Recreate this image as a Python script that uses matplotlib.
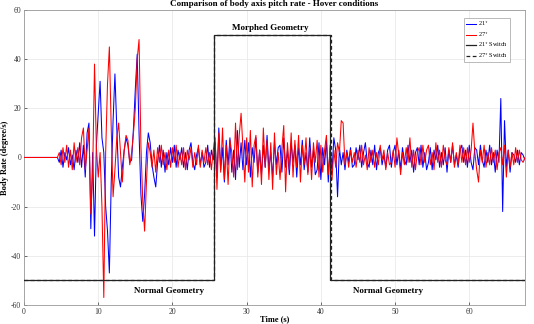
import numpy as np
import matplotlib
matplotlib.use("Agg")
import matplotlib.pyplot as plt

plt.rcParams['font.family'] = ['Liberation Serif', 'DejaVu Serif']
plt.rcParams['axes.unicode_minus'] = False

# sampling grid of the recorded signals (s)
t_start, t_step, t_end = 4.5, 0.25, 67.5
time = np.concatenate([[0.0], np.arange(t_start, t_end + 1e-9, t_step)])

rate_21 = [0.0,
    0, -2, 3, -4, 2, -1, 4, -3, 1, -5, 3, -2, 6, -4, 5, -8, 10, 14, -29, 2,
    -32, 5, 18, 31, 8, 2, -20, -30, -47, -10, 15, 34, 12, -8, -12, -4, 3, 8, 5, -2,
    -1, 12, 28, 42, 10, -15, -26, -15, 2, 10, 6, -3, -8, -12, -2, 5, -4, 3, -6, 2,
    -3, 4, -2, 5, -4, 3, -1, 4, -4, 2, -5, 3, 6, -2, -5, 1, 4, -3, 2, -4,
    -2, 5, -4, 3, -1, 6, -8, 12, -5, 4, -10, 7, -3, 8, -6, 3, -9, 11, -4, 6,
    -5, 7, -3, 6, -8, 4, -2, 8, -6, 3, -7, 5, -4, 9, -5, 2, -8, 6, -3, 4,
    5, -6, 8, -4, 3, -7, 6, -2, 5, -8, 4, -3, 7, -5, 2, -6, 8, -4, 3, -7,
    -5, 6, -9, 4, -3, 7, -10, 5, -6, 8, 3, -16, 4, -3, 2, -5, 3, -2, 4, -4,
    -3, 4, -1, 5, -4, 2, 6, -2, -4, 3, -3, 5, -5, 2, 4, -3, 1, -4, 3, 5,
    -4, 2, 5, -3, 3, -5, 4, -1, -3, 5, -2, 3, -6, 2, 4, -3, 5, -4, 2, -5,
    -2, 4, -5, 3, -1, 5, -4, 2, -3, 4, -6, 3, -2, 5, -3, 1, -4, 3, 5, -2,
    3, -4, 5, -2, -5, 4, 3, -3, 5, -1, -4, 3, -2, 5, -3, 2, -6, 3, -2, 24,
    -22, 15, -4, 3, -6, 2, 1, -2, 3, -3, 2, 1, -1]

rate_27 = [0.0,
    0, 2, -3, 4, -2, 5, -4, 3, -5, 6, -2, 4, -3, 8, 12, -5, 3, 12, -23, -6,
    38, 4, -8, 2, -20, -57, 2, 30, 45, 12, -16, -5, 8, 14, 2, -10, 3, 9, 7, -3,
    2, 10, 20, 40, 48, 5, -18, -30, -10, 6, 2, -4, 3, -6, 4, -2, 5, -3, 2, -5,
    3, -4, 4, -2, 5, -4, 2, -3, 4, -5, 3, -1, 4, -4, 2, -3, 5, -4, 3, -2,
    4, -3, 2, -5, 3, 8, -13, 10, -6, 12, -9, 5, -11, 7, 2, -8, 14, -5, 9, 18,
    4, -10, 8, -6, 11, -12, 5, 9, -8, 3, -11, 12, -4, 7, -9, 6, -13, 10, -7, 2,
    -9, 4, 13, -14, 6, -5, 10, -8, 7, -4, 9, -10, 5, -3, 8, -7, 4, -9, 6, -2,
    7, -8, 5, -6, 3, 9, -7, 4, -9, 3, -4, 6, 2, 15, 14, -3, 2, -4, 3, -2,
    2, -4, 3, -2, 5, -3, 1, -5, 4, -2, 3, -4, 2, -3, 5, -1, 3, -5, 2, -3,
    -2, 3, -4, 8, 1, -7, 2, -3, 4, -2, 8, -4, 3, -5, 2, 4, -3, 5, -2, 3,
    5, -3, 2, -5, 6, -2, 3, -4, 5, -1, -3, 4, -2, 6, -4, 2, -3, 5, -2, 4,
    -3, 4, -2, 3, 14, 2, -5, -10, 3, -2, 5, -4, 2, -3, 4, -2, 3, -5, 2, 4,
    -3, 5, -8, 3, -4, 2, -3, 4, -2, 3, -1, -2, 0]

# geometry switch signals (step levels and switch times)
switch_21_t = [0.0, 25.6, 25.6, 41.2, 41.2, 67.5]
switch_21_v = [-50, -50, 50, 50, -50, -50]
switch_27_t = [0.0, 25.6, 25.6, 41.3, 41.3, 67.5]
switch_27_v = [-50, -50, 50, 50, -50, -50]

x_ticks = [0, 10, 20, 30, 40, 50, 60]
y_ticks = [-60, -40, -20, 0, 20, 40, 60]

fig = plt.figure(figsize=(5.34, 3.24), dpi=100)
ax = fig.add_axes([0.045, 0.059, 0.938, 0.910])

ax.plot(time, rate_21, color='#0000ff', lw=0.75, label='21$^{\\circ}$', zorder=3)
ax.plot(time, rate_27, color='#ff0000', lw=0.75, label='27$^{\\circ}$', zorder=4)
ax.plot(switch_21_t, switch_21_v, color='#222222', lw=0.9, label='21$^{\\circ}$ Switch', zorder=5)
ax.plot(switch_27_t, switch_27_v, color='#222222', lw=0.9, ls=(0, (3, 2)), label='27$^{\\circ}$ Switch', zorder=5)

ax.set_xlim(0, 67.5)
ax.set_ylim(-60, 60)
ax.set_xticks(x_ticks)
ax.set_yticks(y_ticks)
ax.tick_params(labelsize=5.5, direction='in', length=2, width=0.5, colors='#333333', pad=2)
ax.grid(True, color='#e6e6e6', lw=0.5)
ax.set_axisbelow(True)
for s in ax.spines.values():
    s.set_color('#999999')
    s.set_linewidth(0.6)

ax.set_title('Comparison of body axis pitch rate - Hover conditions', fontsize=6.5,
             fontweight='bold', pad=3)
ax.set_xlabel('Time (s)', fontsize=6, fontweight='bold', labelpad=0)
ax.set_ylabel('Body Rate (degree/s)', fontsize=6, fontweight='bold')
ax.yaxis.set_label_coords(-0.031, 0.5)

ax.text(33.2, 52.5, 'Morphed Geometry', fontsize=6.5, fontweight='bold', ha='center', va='center')
ax.text(19.5, -54.5, 'Normal Geometry', fontsize=6.5, fontweight='bold', ha='center', va='center')
ax.text(49.0, -54.5, 'Normal Geometry', fontsize=6.5, fontweight='bold', ha='center', va='center')

leg = ax.legend(loc='upper right', fontsize=4.5, frameon=True, fancybox=False,
                handlelength=1.6, handletextpad=0.4, labelspacing=0.25, borderpad=0.3,
                bbox_to_anchor=(0.977, 0.985))
leg.get_frame().set_edgecolor('#888888')
leg.get_frame().set_linewidth(0.5)

fig.savefig('out.png', dpi=100)
